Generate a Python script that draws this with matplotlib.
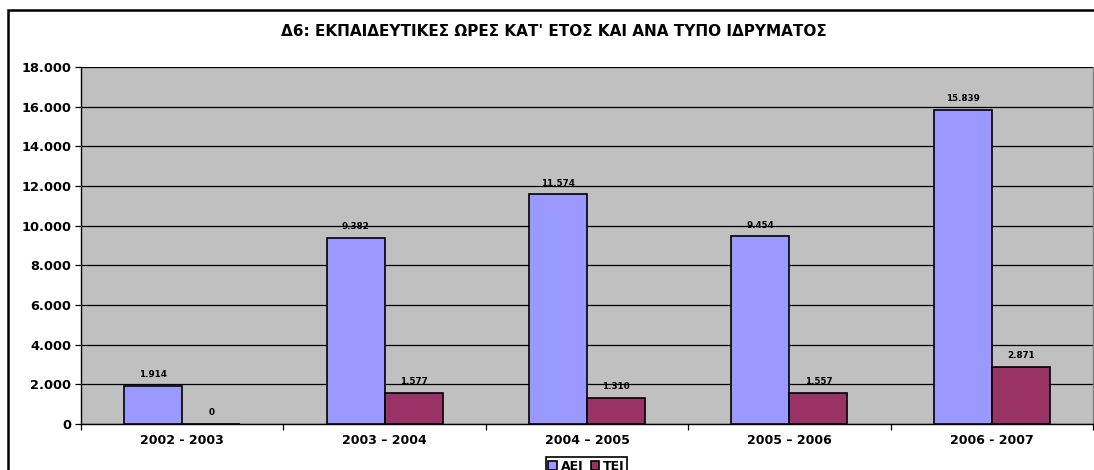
import matplotlib
matplotlib.use("Agg")
import matplotlib.pyplot as plt
import numpy as np
from matplotlib.patches import Rectangle
from matplotlib.ticker import FuncFormatter, FixedLocator

plt.rcParams['font.family'] = ['DejaVu Sans']

categories = ["2002 - 2003", "2003 \u2013 2004", "2004 \u2013 2005", "2005 \u2013 2006", "2006 - 2007"]
aei = [1914, 9382, 11574, 9454, 15839]
tei = [0, 1577, 1310, 1557, 2871]
series_names = ["AEI", "TEI"]
title = "\u03946: \u0395\u039a\u03a0\u0391\u0399\u0394\u0395\u03a5\u03a4\u0399\u039a\u0395\u03a3 \u03a9\u03a1\u0395\u03a3 \u039a\u0391\u03a4' \u0395\u03a4\u039f\u03a3 \u039a\u0391\u0399 \u0391\u039d\u0391 \u03a4\u03a5\u03a0\u039f \u0399\u0394\u03a1\u03a5\u039c\u0391\u03a4\u039f\u03a3"

def fmt(v):
    return f"{int(v):,}".replace(",", ".")

fig = plt.figure(figsize=(10.94, 4.70), dpi=100)
ax = fig.add_axes([81/1094, 1-424/470, (1093-81)/1094, (424-67)/470])
ax.set_facecolor("#C0C0C0")

x = np.arange(len(categories))
w = 0.287
b1 = ax.bar(x - w/2, aei, w, color="#9999FF", edgecolor="black", linewidth=1.2, label=series_names[0], zorder=3)
b2 = ax.bar(x + w/2, tei, w, color="#993366", edgecolor="black", linewidth=1.2, label=series_names[1], zorder=3)

for bars in (b1, b2):
    for r in bars:
        h = r.get_height()
        ax.text(r.get_x() + r.get_width()/2, h + 350, fmt(h), ha="center", va="bottom",
                fontsize=6.3, fontweight="bold", zorder=4)

ax.set_xlim(-0.5, len(categories) - 0.5)
ax.set_ylim(0, 18000)
ax.set_yticks(np.arange(0, 18001, 2000))
ax.yaxis.set_major_formatter(FuncFormatter(lambda v, p: fmt(v)))
ax.yaxis.grid(True, color="black", linewidth=0.9, zorder=1)
ax.set_axisbelow(True)

ax.set_xticks(x)
ax.set_xticklabels(categories)
ax.xaxis.set_minor_locator(FixedLocator(np.arange(-0.5, len(categories), 1.0)))
ax.tick_params(axis="x", which="major", length=0, pad=7)
ax.tick_params(axis="x", which="minor", length=4, width=0.9, direction="out")
ax.tick_params(axis="y", length=4, width=0.9, direction="out", pad=3)
for lab in ax.get_xticklabels():
    lab.set_fontweight("bold")
    lab.set_fontsize(9)
for lab in ax.get_yticklabels():
    lab.set_fontweight("bold")
    lab.set_fontsize(9.3)

for s in ["left", "bottom"]:
    ax.spines[s].set_color("black")
    ax.spines[s].set_linewidth(1.0)
ax.spines["top"].set_visible(False)
ax.spines["right"].set_color("#808080")
ax.spines["right"].set_linewidth(1.0)

fig.text(0.506, 1-31/470, title, ha="center", va="center", fontsize=11, fontweight="bold")

leg = fig.legend(loc="upper center", bbox_to_anchor=(0.536, 1-451/470), ncol=2,
                 frameon=True, fancybox=False, edgecolor="black", framealpha=1,
                 handlelength=0.7, handleheight=0.7, handletextpad=0.3, columnspacing=0.6,
                 borderpad=0.2, prop={"weight": "bold", "size": 9})
leg.get_frame().set_linewidth(1.2)

fig.patches.append(Rectangle((8/1094, -0.1), 1.2, 1-10/470 + 0.1, transform=fig.transFigure,
                             fill=False, edgecolor="black", linewidth=1.8, clip_on=False))

fig.savefig("out.png", dpi=100)
